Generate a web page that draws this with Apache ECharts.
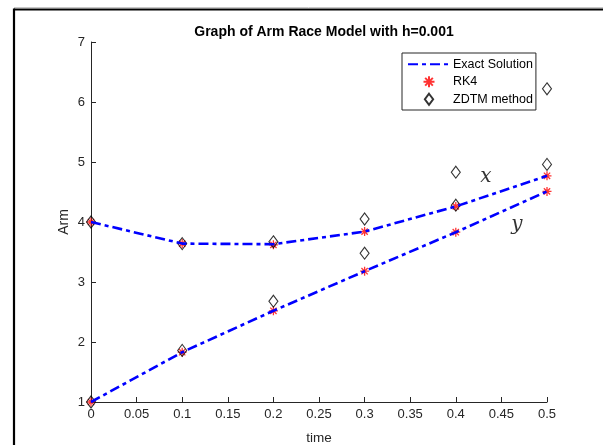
<!DOCTYPE html>
<html>
<head>
<meta charset="utf-8">
<script src="https://cdn.jsdelivr.net/npm/echarts@6/dist/echarts.min.js"></script>
<style>html,body{margin:0;padding:0;background:#fff}#c{width:603px;height:445px}</style>
</head>
<body>
<div id="c"></div>
<script>
var times = [0, 0.1, 0.2, 0.3, 0.4, 0.5];
var exactX = [4.00, 3.64, 3.63, 3.84, 4.26, 4.77];
var exactY = [1.00, 1.83, 2.52, 3.18, 3.83, 4.51];
var rk4X = [4.00, 3.64, 3.62, 3.84, 4.26, 4.77];
var rk4Y = [1.00, 1.83, 2.52, 3.18, 3.83, 4.51];
var zdtmX = [4.00, 3.64, 3.67, 4.05, 4.83, 6.22];
var zdtmY = [1.00, 1.86, 2.68, 3.48, 4.28, 4.96];
var annotations = [{name: 'x', t: 0.433, v: 4.76}, {name: 'y', t: 0.467, v: 3.95}];

function pairs(v) { return times.map(function (t, i) { return [t, v[i]]; }); }
function merge(a, b) { return pairs(a).concat([[null, null]]).concat(pairs(b)); }

var txt = '#262626';
var star = 'path://M0,-10L0,10M-10,0L10,0M-7,-7L7,7M-7,7L7,-7';
var diamond = 'path://M0,-6L4.5,0L0,6L-4.5,0Z';
var chart = echarts.init(document.getElementById('c'), null, {renderer: 'canvas'});
chart.setOption({
  animation: false,
  title: {
    text: 'Graph of Arm Race Model with h=0.001',
    left: 319, top: 20, textAlign: 'center',
    textStyle: {fontFamily: 'Liberation Sans', fontSize: 14, fontWeight: 'bold', color: '#000'}
  },
  grid: {left: 91, right: 56, top: 42, bottom: 43, containLabel: false, outerBoundsMode: 'none'},
  legend: {
    orient: 'vertical', left: 402, top: 53,
    padding: [4, 3, 3.5, 5],
    itemWidth: 42, itemHeight: 11, itemGap: 3,
    borderColor: txt, borderWidth: 1, backgroundColor: '#fff',
    textStyle: {fontFamily: 'Liberation Sans', fontSize: 12.5, lineHeight: 14.5, color: '#000', padding: [0, 0, 0, -2]},
    data: [
      {name: 'Exact Solution', itemStyle: {opacity: 0}},
      {name: 'RK4'},
      {name: 'ZDTM method'}
    ]
  },
  xAxis: {
    type: 'value', min: 0, max: 0.5, interval: 0.05,
    name: 'time', nameLocation: 'middle', nameGap: 29, nameMoveOverlap: false,
    nameTextStyle: {fontFamily: 'Liberation Sans', fontSize: 13.5, color: txt},
    axisLine: {lineStyle: {color: txt, width: 1}},
    axisTick: {inside: true, length: 5, lineStyle: {color: txt}},
    axisLabel: {fontFamily: 'Liberation Sans', fontSize: 13, color: txt, margin: 6,
      formatter: function (v) { return String(+v.toFixed(2)); }},
    splitLine: {show: false}
  },
  yAxis: {
    type: 'value', min: 1, max: 7, interval: 1,
    name: 'Arm', nameLocation: 'middle', nameGap: 20, nameMoveOverlap: false,
    nameTextStyle: {fontFamily: 'Liberation Sans', fontSize: 14, color: txt},
    axisLine: {show: true, lineStyle: {color: txt, width: 1}},
    axisTick: {show: true, inside: true, length: 5, lineStyle: {color: txt}},
    axisLabel: {fontFamily: 'Liberation Sans', fontSize: 13, color: txt, margin: 6},
    splitLine: {show: false}
  },
  series: [
    {
      name: 'Exact Solution', type: 'line', data: merge(exactX, exactY),
      symbol: 'none', connectNulls: false,
      lineStyle: {color: '#0000ff', width: 2.6, type: [10, 4, 4, 4]},
      itemStyle: {color: '#0000ff'}
    },
    {
      name: 'RK4', type: 'scatter', data: pairs(rk4X).concat(pairs(rk4Y)),
      symbol: star, symbolSize: 9,
      itemStyle: {color: '#ff0000', borderColor: '#ff0000', borderWidth: 1.3}
    },
    {
      name: 'ZDTM method', type: 'scatter', data: pairs(zdtmX).concat(pairs(zdtmY)),
      symbol: diamond, symbolSize: [9, 12],
      itemStyle: {color: 'rgba(255,255,255,0)', borderColor: '#000', borderWidth: 1.1}
    },
    {
      name: 'labels', type: 'scatter', symbolSize: 0, silent: true,
      data: annotations.map(function (a) { return {name: a.name, value: [a.t, a.v]}; }),
      label: {show: true, position: 'inside', formatter: '{b}',
        fontFamily: 'DejaVu Serif', fontStyle: 'italic', fontSize: 20, color: '#000'}
    }
  ],
  graphic: [
    {type: 'line', shape: {x1: 14, y1: 7.5, x2: 603, y2: 7.5}, style: {stroke: '#c8c8c8', lineWidth: 1}},
    {type: 'line', shape: {x1: 14, y1: 9.5, x2: 603, y2: 9.5}, style: {stroke: '#000', lineWidth: 2}},
    {type: 'line', shape: {x1: 14, y1: 8.5, x2: 14, y2: 445}, style: {stroke: '#000', lineWidth: 2.2}}
  ]
});
</script>
</body>
</html>
